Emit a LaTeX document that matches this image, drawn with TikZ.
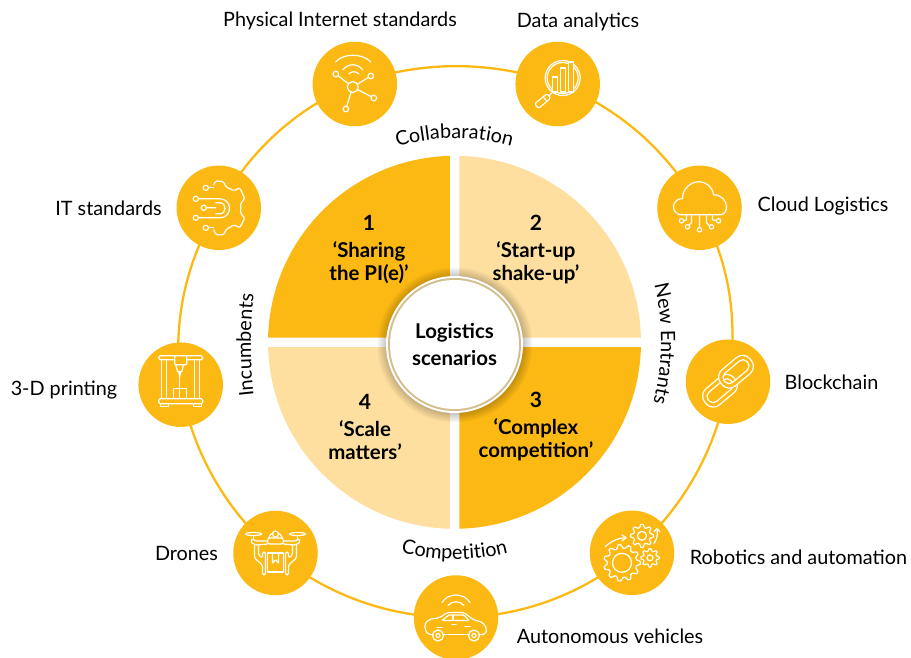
\documentclass[tikz,border=0pt]{standalone}
\usepackage{fontspec}
\setmainfont{Lato}
\usepackage{xcolor}
\usepackage{tikz}
\usetikzlibrary{positioning,backgrounds,fadings,decorations.text}
\definecolor{amber}{HTML}{FDB913}
\definecolor{pale}{HTML}{FEDF9F}
\definecolor{bandgold}{HTML}{D6A015}
\definecolor{bandtan}{HTML}{D4BE8E}
\newcommand{\labelfont}{\fontsize{19.8}{23}\selectfont}
\newcommand{\boldfont}{\fontsize{20.4}{23.5}\selectfont\bfseries}
\newcommand{\cogwheel}[4]{%
  \pgfmathsetmacro\cogfrom{45/#4}%
  \pgfmathsetmacro\cogto{360+45/#4}%
  \pgfmathtruncatemacro\cogsamples{4*#4+1}%
  \draw[iconline,shift={#1}] plot[domain=\cogfrom:\cogto,samples=\cogsamples]
    ({(#2+#3*sign(cos(#4*\x)))*cos(\x)},{(#2+#3*sign(cos(#4*\x)))*sin(\x)}) -- cycle;}
\tikzset{
  iconline/.style={draw=white,line width=1.2pt,line cap=round,line join=round},
  iconknob/.style={iconline,fill=amber},
  badge/.style={circle,fill=amber,minimum size=84.5pt,inner sep=0pt},
  ringline/.style={draw=amber,line width=2.3pt},
  outlabel/.style={font=\labelfont,text=black,inner sep=0pt},
  quadtext/.style={font=\boldfont,align=center,inner sep=0pt,text=black},
  netglyph/.pic={
    \draw[iconline] (-2,3) -- (-19,-10) (-2,3) -- (16,-8) (-2,3) -- (19,14) (-2,3) -- (-9,25);
    \draw[iconknob] (-2,3) circle[radius=5.5];
    \foreach \px/\py in {-19/-10,16/-8,19/14,-9/25}
      \draw[iconknob] (\px,\py) circle[radius=2.8];
    \draw[iconline] (-19,-22) .. controls (-12,-31) and (8,-31) .. (16,-22);
    \draw[iconline] (-12,-14) .. controls (-7,-21) and (3,-21) .. (8,-14);
    \draw[iconline] (-6,-10) .. controls (-4,-13) and (2,-13) .. (4,-10);
  },
  lensglyph/.pic={
    \draw[iconline] (5,-6) circle[radius=17.5] (5,-6) circle[radius=15.5];
    \draw[iconline,fill=amber] (-5,-7) rectangle (0,8);
    \draw[iconline,fill=amber] (3,-16) rectangle (8,8);
    \draw[iconline,fill=amber] (11,-22) rectangle (16,8);
    \draw[iconline] (-6,9) -- (-9,12);
    \begin{scope}[shift={(-15,17)},rotate=40]
      \draw[iconknob,rounded corners=1.5] (-8,-3) rectangle (8,3);
      \draw[iconline] (3,-3) -- (3,3);
    \end{scope}
  },
  cloudglyph/.pic={
    \draw[iconline] (-18,7) .. controls (-23,7) and (-26,3) .. (-26,-1)
      .. controls (-26,-6) and (-21,-10) .. (-17,-9)
      .. controls (-17,-20) and (-8,-26) .. (-1,-26)
      .. controls (7,-26) and (13,-21) .. (14,-13)
      .. controls (22,-13) and (27,-7) .. (27,-1)
      .. controls (27,3) and (25,7) .. (21,7) -- cycle;
    \draw[iconline] (0,7) -- (0,20) (-8,7) -- (-8,15) -- (-11,18) (7,7) -- (7,15) -- (10,18)
      (-13,7) -- (-13,12) -- (-16,13) (13,7) -- (13,12) -- (17,13);
    \foreach \px/\py in {0/22,-12/19,12/19,-18/13,19/13}
      \draw[iconknob] (\px,\py) circle[radius=2.2];
  },
  chainglyph/.pic={
    \begin{scope}[shift={(-8,9)},rotate=40]
      \draw[iconline,rounded corners=9.5] (-19,-10.5) rectangle (19,10.5);
      \draw[iconline,rounded corners=5.5] (-15,-6) rectangle (15,6);
    \end{scope}
    \begin{scope}[shift={(8,-10)},rotate=40]
      \filldraw[iconline,fill=amber,even odd rule,rounded corners=9.5] (-19,-10.5) rectangle (19,10.5)
        [rounded corners=5.5] (-15,-6) rectangle (15,6);
    \end{scope}
  },
  gearglyph/.pic={
    \cogwheel{(-10,10)}{16.5}{1.8}{11}
    \draw[iconline] (-10,10) circle[radius=9.5];
    \cogwheel{(10,-17)}{10}{1.5}{8}
    \draw[iconline] (10,-17) circle[radius=4.5];
    \cogwheel{(18,5)}{8}{1.2}{8}
    \draw[iconline] (18,5) circle[radius=3];
    \draw[iconline] (-27,-6) .. controls (-19,-13) and (-13,-15) .. (-6,-15);
    \draw[iconline] (-10,-18) -- (-6,-15) -- (-10,-12);
    \draw[iconline] (22,-9) .. controls (25,-14) and (26,-19) .. (25,-24);
    \draw[iconline] (22,-21) -- (25,-24) -- (28,-21);
  },
  carglyph/.pic={
    \draw[iconline,rounded corners=2] (-23.5,17) -- (-28,17) -- (-31,12) -- (-31,6) -- (-27,2) -- (-16,0)
      -- (-9,-5) -- (8,-5) -- (17,2) -- (27,5) -- (31,12) -- (29,17) -- (23.5,17);
    \draw[iconline] (-12.5,17) -- (12.5,17);
    \draw[iconline,rounded corners=1] (-14,3) -- (-7,-2.5) -- (8,-2.5) -- (13,3) -- cycle;
    \draw[iconline] (-3,-2.5) -- (-3,3) (-19,10) -- (-14,10) (9,9) -- (14,9) (-4,7) -- (0,7);
    \foreach \px in {-18,18}
      \draw[iconline] (\px,18) circle[radius=5.5] (\px,18) circle[radius=2];
    \draw[iconline] (-14,-15) .. controls (-8,-25) and (8,-25) .. (14,-15);
    \draw[iconline] (-8,-12) .. controls (-4,-17) and (4,-17) .. (8,-12);
  },
  droneglyph/.pic={
    \foreach \sx in {-1,1} {
      \draw[iconline] ({\sx*22},-19) ellipse[x radius=8,y radius=1.5];
      \draw[iconline] ({\sx*22},-17) -- ({\sx*22},-14);
      \draw[iconline,rounded corners=1] ({\sx*8},-12) -- ({\sx*19},-12) -- ({\sx*24},-14) -- ({\sx*24},-10) -- ({\sx*19},-8) -- ({\sx*8},-9);
      \draw[iconline,rounded corners=1.5] ({\sx*21},-8) -- ({\sx*21},5) -- ({\sx*13},12) -- ({\sx*13},22) -- ({\sx*10},22) -- ({\sx*10},-1) -- ({\sx*13},-1) -- ({\sx*13},5) -- ({\sx*17},2) -- ({\sx*17},-8);
    }
    \draw[iconline,rounded corners=2.5] (-8,-9) rectangle (8,-15);
    \draw[iconline,rounded corners=2] (-7,-15) -- (-4,-20) -- (4,-20) -- (7,-15);
    \draw[iconknob] (0,-19) circle[radius=3];
    \draw[iconline] (-8,0) rectangle (8,19);
    \draw[iconline] (-3,0) -- (-3,10) -- (0,7) -- (3,10) -- (3,0);
  },
  printerglyph/.pic={
    \draw[iconline,rounded corners=1.5] (-22,-29) rectangle (22,-25);
    \draw[iconline] (-19,-25) rectangle (-14,14) (14,-25) rectangle (19,14);
    \draw[iconline,rounded corners=1.5] (-22,14) rectangle (22,19);
    \draw[iconline] (-20,19) rectangle (-12,22) (13,19) rectangle (21,22);
    \draw[iconline,fill=amber,rounded corners=1] (-6,-29) rectangle (6,-20);
    \draw[iconline] (-5,-20) -- (-3,-13) -- (1,-13) -- (3,-20) (-2,-13) -- (-1,-8) (0,-13) -- (-1,-8);
    \draw[iconline] (-1,-8) -- (-1,4);
    \draw[iconline] (-7,4) rectangle (6,14);
    \draw[iconline] (-1,4) -- (-1,14);
  },
  boardglyph/.pic={
    \draw[iconline,rounded corners=1.5] (-5,-23) -- (-3,-27) -- (5,-26) -- (7,-21) -- (15,-17) -- (21,-20)
      -- (26,-9) -- (22,-5) -- (22,6) -- (26,10) -- (21,20) -- (15,17) -- (7,22) -- (5,27) -- (-3,27) -- (-5,22);
    \draw[iconline] (-10,-20) -- (-5,-20) (-10,20) -- (-5,20);
    \draw[iconline] (-20,-9) -- (1,-9) .. controls (14,-9) and (14,10) .. (1,10) -- (-20,10);
    \draw[iconline] (-12,0) -- (-3,0) (-3,-5) -- (1,-5) .. controls (8,-5) and (8,6) .. (1,6) -- (-3,6);
    \foreach \px/\py in {-13/-20,-13/20,-23/-9,-23/10,-15/0}
      \draw[iconknob] (\px,\py) circle[radius=2.6];
  }
}
\begin{document}
\begin{tikzpicture}[x=1pt,y=-1pt]
\useasboundingbox (0,0) rectangle (911,657);
\coordinate (core) at (454.5,342.3);
\coordinate (disc) at (454.5,344.5);
\node[badge] (physical) at (354.8,84) {};
\node[badge] (analytics) at (557.7,84) {};
\node[badge] (cloud) at (699.5,207.8) {};
\node[badge] (chain) at (728,381.7) {};
\node[badge] (robots) at (632,552.8) {};
\node[badge] (car) at (456,617.5) {};
\node[badge] (drones) at (275.5,553) {};
\node[badge] (printer) at (180.7,384.7) {};
\node[badge] (board) at (218.8,207.8) {};
\begin{scope}[on background layer]
\foreach \from/\upto in {physical/analytics,analytics/cloud,cloud/chain,chain/robots,robots/car,car/drones,drones/printer,printer/board,board/physical}
  \draw[ringline] (\from.center) to[bend left=20,looseness=.88] (\upto.center);
\end{scope}

\pic at (physical) {netglyph};
\pic at (analytics) {lensglyph};
\pic at (cloud) {cloudglyph};
\pic at (chain) {chainglyph};
\pic at (robots) {gearglyph};
\pic at (car) {carglyph};
\pic at (drones) {droneglyph};
\pic at (printer) {printerglyph};
\pic at (board) {boardglyph};

\begin{scope}[y=1pt,shift={(core)}]
\foreach \turn/\tint in {0/pale,90/amber,180/pale,270/amber}
  \fill[\tint,rotate=\turn] (4.75,4.75) -- (1.46:186.5) arc (1.46:88.54:186.5) -- cycle;
\path[decorate,decoration={text along path,text align=center,text={|\labelfont|Collabaration}}] (122:204) arc (122:58:204);
\path[decorate,decoration={text along path,text align=center,text={|\labelfont|Competition}}] (-122:217) arc (-122:-58:217);
\end{scope}
\path[decorate,decoration={text along path,text align=center,text={|\labelfont|New Entrants}}] (653,280) .. controls (664,320) and (664,365) .. (652,407);
\path[decorate,decoration={text along path,text align=center,text={|\labelfont|Incumbents}}] (254,398) .. controls (250,365) and (250,325) .. (254,292);

\fill[black,opacity=.35,path fading=circle with fuzzy edge 20 percent] (disc) circle[radius=78];
\fill[white] (disc) circle[radius=68.5];
\shade[top color=bandtan,middle color=bandgold,bottom color=bandtan,shading angle=-45] (disc) circle[radius=66.5];
\node[circle,fill=white,minimum size=129pt,inner sep=0pt,align=center,font=\boldfont] (hub) at (disc) {Logistics\\[3pt]scenarios};

\node[quadtext] (share) at (369,250) {{\fontsize{21}{24}\selectfont 1}\\[3pt]‘Sharing\\the PI(e)’};
\node[quadtext] (startup) at (536,250) {{\fontsize{21}{24}\selectfont 2}\\[3pt]‘Start-up\\shake-up’};
\node[quadtext] (complex) at (536,427) {{\fontsize{21}{24}\selectfont 3}\\[3pt]‘Complex\\competition’};
\node[quadtext] (scale) at (365,427) {{\fontsize{21}{24}\selectfont 4}\\[3pt]‘Scale\\matters’};

\node[outlabel] (physicaltxt) at (340,21) {Physical Internet standards};
\node[outlabel] (analyticstxt) at (578,21.5) {Data analytics};
\node[outlabel] (cloudtxt) at (823,206) {Cloud Logistics};
\node[outlabel] (chaintxt) at (831.5,382) {Blockchain};
\node[outlabel] (robotstxt) at (798.5,557) {Robotics and automation};
\node[outlabel] (cartxt) at (610,636) {Autonomous vehicles};
\node[outlabel] (dronestxt) at (186.5,553) {Drones};
\node[outlabel] (printertxt) at (64,390) {3-D printing};
\node[outlabel] (boardtxt) at (108.5,208) {IT standards};
\end{tikzpicture}
\end{document}
